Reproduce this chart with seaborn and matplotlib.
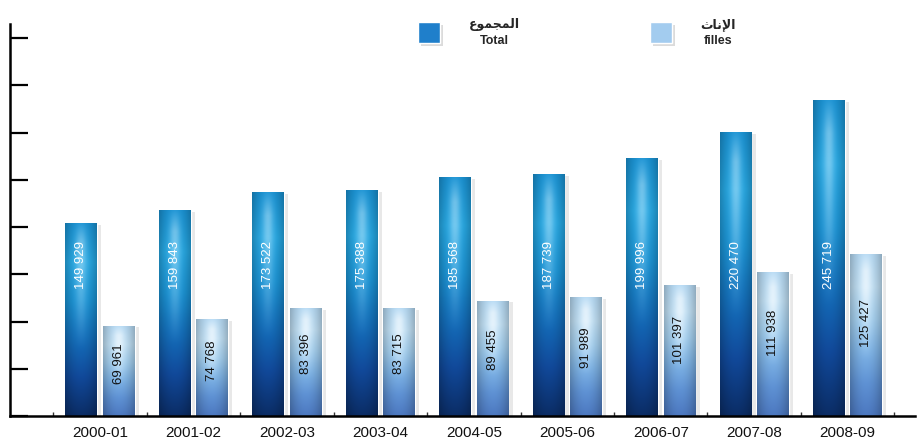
import numpy as np
import pandas as pd
import matplotlib
matplotlib.use("Agg")
import matplotlib.pyplot as plt
import matplotlib.transforms as mtransforms
import matplotlib.patheffects as pe
from matplotlib.colors import LinearSegmentedColormap
import seaborn as sns

years = ["2000-01", "2001-02", "2002-03", "2003-04", "2004-05",
         "2005-06", "2006-07", "2007-08", "2008-09"]
total = [149929, 159843, 173522, 175388, 185568, 187739, 199996, 220470, 245719]
filles = [69961, 74768, 83396, 83715, 89455, 91989, 101397, 111938, 125427]

# Arabic legend words, in shaped presentation forms (visual order)
ar_total = "\uFEC9\uFEEE\uFEE4\uFEA0\uFEE4\uFEDF\uFE8D"   # المجموع
ar_filles = "\uFE99\uFE8E\uFEE7\uFEF9\uFE8D"              # الإناث

df = pd.DataFrame({
    "year": years * 2,
    "value": total + filles,
    "series": ["Total"] * len(years) + ["filles"] * len(years),
})

sns.set_style("white")
plt.rcParams["font.family"] = ["Liberation Sans", "DejaVu Sans"]

fig = plt.figure(figsize=(9.19, 4.38), dpi=100)
ax = fig.add_axes([0.0109, 0.0502, 0.9847, 0.8950])

sns.barplot(data=df, x="year", y="value", hue="series", ax=ax,
            palette=["#2387cf", "#a9cff0"], width=0.8, gap=0.15,
            saturation=1, errorbar=None)

stops_total = ["#0b2d66", "#11499a", "#146fbb", "#1b95d7", "#27abe7", "#1a93d4"]
stops_filles = ["#4c78c0", "#5f92d4", "#7fb4e6", "#a6d2f2", "#c3e3f8", "#b6daf4"]


def gradient(stops, hl, n=128, m=40):
    cmap = LinearSegmentedColormap.from_list("g", stops)
    t = np.linspace(0, 1, n)
    col = cmap(t)[:, :3]
    xs = np.linspace(-1, 1, m)
    edge = 1 - 0.22 * xs ** 2
    glow = np.exp(-(xs / 0.35) ** 2)
    vert = np.clip((t - 0.35) / 0.45, 0, 1) * np.clip((1.02 - t) / 0.12, 0, 1)
    img = col[:, None, :] * edge[None, :, None]
    w = hl * glow[None, :, None] * vert[:, None, None]
    return img * (1 - w) + w


img_total = gradient(stops_total, 0.35)
img_filles = gradient(stops_filles, 0.55)

shadow = [pe.SimplePatchShadow(offset=(3, -1), shadow_rgbFace="#999999", alpha=0.22), pe.Normal()]
for cont, img in zip(ax.containers, [img_total, img_filles]):
    for bar in cont:
        bar.set_path_effects(shadow)
        x, w, h = bar.get_x(), bar.get_width(), bar.get_height()
        ax.imshow(img, extent=[x, x + w, 0, h], origin="lower",
                  aspect="auto", zorder=bar.get_zorder() + 0.1,
                  interpolation="bilinear")

# value labels
trans = mtransforms.blended_transform_factory(ax.transData, ax.transAxes)
for bar, v in zip(ax.containers[0], total):
    ax.text(bar.get_x() + bar.get_width() / 2, 0.385,
            f"{v:,}".replace(",", " "), transform=trans, rotation=90,
            ha="center", va="center", color="white", fontsize=9.5, zorder=5)
for bar, v in zip(ax.containers[1], filles):
    ax.text(bar.get_x() + bar.get_width() / 2, v * 0.58,
            f"{v:,}".replace(",", " "), rotation=90,
            ha="center", va="center", color="#111111", fontsize=9.5, zorder=5)

ax.set_xlim(-0.963, 8.72)
ax.set_ylim(0, 305000)
ax.set_yticks(np.arange(0, 300000, 36750))
ax.set_yticklabels([])
ax.set_xlabel("")
ax.set_ylabel("")
ax.set_xticks(np.arange(-0.5, 9, 1), minor=True)

sns.despine(ax=ax, top=True, right=True)
for s in ["left", "bottom"]:
    ax.spines[s].set_color("black")
    ax.spines[s].set_linewidth(1.8)
ax.tick_params(axis="y", direction="in", length=13, width=1.6, color="black", left=True)
ax.tick_params(axis="x", which="major", length=0, pad=7, labelsize=11, labelcolor="#111111")
ax.tick_params(axis="x", which="minor", direction="in", length=3, width=1, color="#333333", bottom=True)

# legend
leg = ax.get_legend()
handles = leg.legend_handles
leg.remove()
handles[0].set_facecolor("#1f7fcb")
handles[1].set_facecolor("#a3ccef")
for hd in handles:
    hd.set_path_effects([pe.SimplePatchShadow(offset=(2, -2), shadow_rgbFace="#888888", alpha=0.3), pe.Normal()])
lg = fig.legend(handles, [ar_total + "\nTotal", ar_filles + "\nfilles"],
                loc="upper center", bbox_to_anchor=(0.628, 0.985), ncol=2,
                frameon=False, handlelength=1.75, handleheight=2.2,
                handletextpad=2.3, columnspacing=10.4,
                prop={"size": 9, "weight": "bold"})
for t in lg.get_texts():
    t.set_multialignment("center")
    t.set_linespacing(1.45)

fig.savefig("out.png", dpi=100)
